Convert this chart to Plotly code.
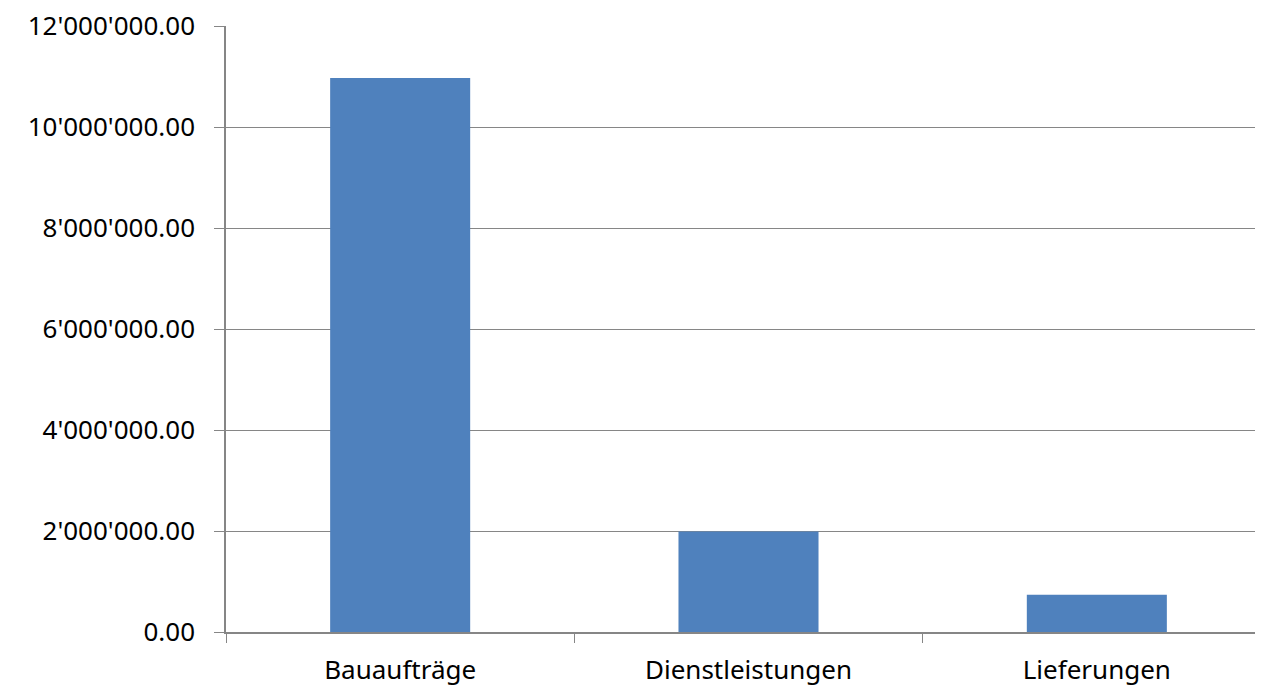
import plotly.graph_objects as go

categories = ["Bauaufträge", "Dienstleistungen", "Lieferungen"]
values = [10970000, 1990000, 739000]
y_ticks = [0, 2000000, 4000000, 6000000, 8000000, 10000000, 12000000]

fig = go.Figure(go.Bar(x=categories, y=values, marker=dict(color="#4F81BD", line=dict(width=0))))

fig.update_layout(
    width=1263, height=691,
    margin=dict(l=218, r=0, t=18, b=67),
    paper_bgcolor="white", plot_bgcolor="white",
    bargap=0.598,
    separators=".'",
    showlegend=False,
    font=dict(family="Noto Sans", size=26, color="#000000"),
)
fig.update_xaxes(
    showline=True, linecolor="#868686", linewidth=1.5,
    ticks="outside", tickson="boundaries", ticklen=9, tickcolor="#868686",
    showgrid=False, tickfont=dict(size=26), ticklabelstandoff=14,
    automargin=False,
)
fig.update_yaxes(
    range=[0, 12000000], tickvals=y_ticks, tickformat=",.2f",
    showline=True, linecolor="#868686", linewidth=1.5,
    ticks="outside", ticklen=10, tickcolor="#868686",
    showgrid=True, gridcolor="#868686", gridwidth=1,
    zeroline=False, tickfont=dict(size=26), ticklabelstandoff=14,
    ticklabeloverflow="allow", automargin=False,
)

fig.write_html("out.html")
